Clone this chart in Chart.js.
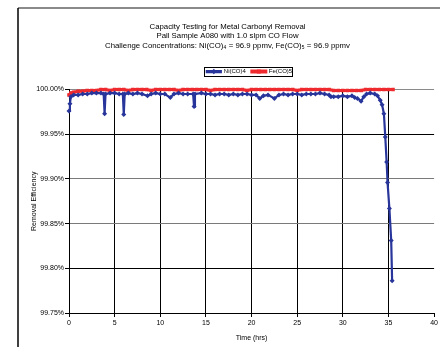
<!DOCTYPE html>
<html>
<head>
<meta charset="utf-8">
<script src="https://cdn.jsdelivr.net/npm/chart.js@4"></script>
<style>
  html, body { margin: 0; padding: 0; background: #fff; }
  #wrap { width: 440px; height: 347px; }
</style>
</head>
<body>
<div id="wrap"><canvas id="myChart"></canvas></div>
<script>
const titleLines = [
    'Capacity Testing for Metal Carbonyl Removal',
    'Pall Sample A080 with 1.0 slpm CO Flow',
    'Challenge Concentrations: Ni(CO)\u2084 = 96.9 ppmv, Fe(CO)\u2085 = 96.9 ppmv'
]
const seriesNames = ['Ni(CO)4', 'Fe(CO)5']
const xTitle = 'Time (hrs)'
const yTitle = 'Removal Efficiency'
const xTickValues = [0, 5, 10, 15, 20, 25, 30, 35, 40]
const yTickValues = [99.75, 99.80, 99.85, 99.90, 99.95, 100.00]

// Ni(CO)4 breakthrough (hours, % removal)
const niHours = [
    0, 0.1, 0.2, 0.5, 1.0, 1.5, 2.0, 2.5, 3.0, 3.5,
    3.8, 3.9, 4.0, 4.5, 5.0, 5.5, 5.9, 6.0, 6.1, 6.5,
    7.0, 7.5, 8.0, 8.6, 9.0, 9.5, 10.0, 10.5, 11.1, 11.5,
    12.0, 12.5, 13.0, 13.6, 13.7, 13.8, 14.5, 15.0, 15.5, 16.0,
    16.5, 17.0, 17.5, 18.0, 18.5, 19.0, 19.5, 20.0, 20.5, 20.9,
    21.3, 21.8, 22.5, 23.0, 23.5, 24.0, 24.5, 25.0, 25.5, 26.0,
    26.5, 27.0, 27.5, 28.0, 28.5, 28.7, 29.0, 29.5, 30.0, 30.5,
    31.0, 31.3, 31.6, 32.0, 32.3, 32.6, 33.0, 33.5, 33.8, 34.1,
    34.3, 34.5, 34.65, 34.8, 34.9, 35.1, 35.3, 35.4
]
const niEfficiency = [
    99.976, 99.984, 99.992, 99.994, 99.994, 99.995, 99.995, 99.996, 99.996, 99.996,
    99.995, 99.973, 99.995, 99.996, 99.996, 99.995, 99.995, 99.972, 99.995, 99.996,
    99.995, 99.996, 99.995, 99.993, 99.995, 99.996, 99.995, 99.995, 99.991, 99.995,
    99.996, 99.995, 99.995, 99.995, 99.981, 99.995, 99.996, 99.995, 99.995, 99.994,
    99.995, 99.995, 99.994, 99.995, 99.994, 99.995, 99.995, 99.994, 99.994, 99.990,
    99.993, 99.994, 99.990, 99.994, 99.995, 99.994, 99.995, 99.995, 99.994, 99.995,
    99.995, 99.995, 99.996, 99.995, 99.994, 99.992, 99.992, 99.992, 99.993, 99.992,
    99.993, 99.991, 99.990, 99.987, 99.992, 99.995, 99.996, 99.995, 99.993, 99.988,
    99.983, 99.973, 99.947, 99.919, 99.896, 99.867, 99.831, 99.786
]

// Fe(CO)5 (hours, % removal)
const feHours = [
    0, 0.2, 0.5, 1.0, 1.5, 2.0, 2.5, 3.0, 3.5, 4.0,
    4.5, 5.0, 5.5, 6.0, 6.5, 7.0, 7.5, 8.0, 8.5, 9.0,
    9.5, 10.0, 10.5, 11.0, 11.5, 12.0, 12.5, 13.0, 13.5, 14.0,
    14.5, 15.0, 15.5, 16.0, 16.5, 17.0, 17.5, 18.0, 18.5, 19.0,
    19.5, 20.0, 20.5, 21.0, 21.5, 22.0, 22.5, 23.0, 23.5, 24.0,
    24.5, 25.0, 25.5, 26.0, 26.5, 27.0, 27.5, 28.0, 28.5, 29.0,
    29.5, 30.0, 30.5, 31.0, 31.5, 32.0, 32.5, 33.0, 33.5, 34.0,
    34.5, 35.0, 35.5
]
const feEfficiency = [
    99.994, 99.996, 99.997, 99.998, 99.998, 99.999, 99.999, 99.999, 100.000, 100.000,
    99.999, 100.000, 100.000, 100.000, 99.999, 100.000, 100.000, 100.000, 100.000, 99.999,
    100.000, 100.000, 100.000, 100.000, 100.000, 99.999, 100.000, 100.000, 100.000, 100.000,
    100.000, 100.000, 99.999, 100.000, 100.000, 100.000, 100.000, 100.000, 100.000, 100.000,
    99.999, 100.000, 100.000, 100.000, 100.000, 100.000, 100.000, 100.000, 100.000, 100.000,
    100.000, 99.999, 100.000, 100.000, 100.000, 100.000, 100.000, 100.000, 100.000, 99.999,
    99.999, 99.999, 99.999, 99.999, 99.999, 99.999, 100.000, 100.000, 100.000, 100.000,
    100.000, 100.000, 100.000
]

const BLUE = '#28359a'
const RED = '#ee2a2e'
const FONT = 'Arial, "Liberation Sans", sans-serif'

Chart.defaults.font.family = FONT
Chart.defaults.font.size = 7
Chart.defaults.color = '#000'

// outer frame + legend decorations, the way Excel drew them
const excelLook = {
    id: 'excelLook',
    beforeDraw(chart) {
        const ctx = chart.ctx
        ctx.save()
        ctx.fillStyle = '#fff'
        ctx.fillRect(0, 0, chart.width, chart.height)
        ctx.lineWidth = 2
        ctx.strokeStyle = '#8a8a8a'
        ctx.beginPath(); ctx.moveTo(18, 8); ctx.lineTo(chart.width, 8); ctx.stroke()
        ctx.lineWidth = 1.5
        ctx.strokeStyle = '#000'
        ctx.beginPath(); ctx.moveTo(18, 8); ctx.lineTo(18, chart.height); ctx.stroke()
        ctx.restore()
    },
    beforeLayout(chart) {
        // leave a gap under the legend, like the Excel plot
        const lg = chart.legend
        if (lg && !lg._gapPatched) {
            const fit = lg.fit.bind(lg)
            lg.fit = function () { fit(); this.height += 5 }
            lg._gapPatched = true
        }
    },
    afterLayout(chart) {
        chart.legend.left += 22
        chart.legend.right += 22
    },
    afterDraw(chart) {
        const lg = chart.legend
        const boxes = lg.legendHitBoxes
        if (!boxes || !boxes.length) return
        const ctx = chart.ctx
        ctx.save()
        const styles = ['rectRot', 'rect']
        const cols = [BLUE, RED]
        let l = Infinity, r = -Infinity, t = Infinity, b = -Infinity
        boxes.forEach((h, i) => {
            l = Math.min(l, h.left); r = Math.max(r, h.left + h.width)
            t = Math.min(t, h.top); b = Math.max(b, h.top + h.height)
            const cx = h.left + lg.options.labels.boxWidth / 2
            const cy = h.top + h.height / 2
            ctx.fillStyle = cols[i]
            ctx.beginPath()
            if (styles[i] === 'rect') {
                ctx.rect(cx - 2, cy - 2, 4, 4)
            } else {
                ctx.moveTo(cx, cy - 2.8); ctx.lineTo(cx + 2.8, cy)
                ctx.lineTo(cx, cy + 2.8); ctx.lineTo(cx - 2.8, cy); ctx.closePath()
            }
            ctx.fill()
        })
        ctx.strokeStyle = '#000'
        ctx.lineWidth = 1
        ctx.strokeRect(Math.round(l - 3) + 0.5, Math.round(t - 1.5) + 0.5, Math.round(r - l + 3), Math.round(b - t + 3))
        ctx.restore()
    }
}

const yGridShade = ['#000', '#000', '#7a7a7a', '#7a7a7a', '#000', '#8a8a8a']

new Chart(document.getElementById('myChart'), {
    type: 'line',
    data: {
        datasets: [{
                label: seriesNames[0],
                data: niHours.map((h, i) => ({ x: h, y: niEfficiency[i] })),
                borderColor: BLUE,
                backgroundColor: BLUE,
                borderWidth: 2.2,
                pointStyle: 'rectRot',
                pointRadius: 2.5,
                pointBorderWidth: 0,
                tension: 0,
                clip: 6
            },
            {
                label: seriesNames[1],
                data: feHours.map((h, i) => ({ x: h, y: feEfficiency[i] })),
                borderColor: RED,
                backgroundColor: RED,
                borderWidth: 3,
                pointStyle: 'rect',
                pointRadius: 2.5,
                pointBorderWidth: 0,
                tension: 0,
                clip: 6
            }
        ]
    },
    options: {
        responsive: true,
        maintainAspectRatio: false,
        animation: false,
        layout: {
            padding: { left: 20, right: 5, top: 8, bottom: 0 }
        },
        scales: {
            x: {
                type: 'linear',
                min: 0,
                max: 40,
                afterBuildTicks: s => { s.ticks = xTickValues.map(v => ({ value: v })) },
                afterFit: s => { s.height = 34 },
                ticks: { padding: 2, maxRotation: 0, font: { size: 7 } },
                grid: {
                    color: c => (c.tick && (c.tick.value === 40 || c.tick.value === 0)) ? 'rgba(0,0,0,0)' : '#000',
                    tickColor: '#000',
                    tickLength: 4,
                    lineWidth: 1
                },
                border: { color: '#000', width: 1 },
                title: { display: true, text: xTitle, padding: { top: 0, bottom: 5 }, font: { size: 7 } }
            },
            y: {
                min: 99.75,
                max: 100,
                afterBuildTicks: s => { s.ticks = yTickValues.map(v => ({ value: v })) },
                afterFit: s => { s.width = 49 },
                ticks: {
                    padding: 1,
                    font: { size: 7 },
                    callback: v => v.toFixed(2) + '%'
                },
                grid: {
                    color: c => yGridShade[c.index] || '#000',
                    tickColor: '#000',
                    tickLength: 4,
                    lineWidth: 1
                },
                border: { color: '#000', width: 1 },
                title: { display: true, text: yTitle, padding: { top: 10, bottom: 0 }, font: { size: 7 } }
            }
        },
        plugins: {
            title: {
                display: true,
                text: titleLines,
                font: { size: 7.8, weight: 'normal', lineHeight: 1.22 },
                color: '#000',
                padding: { top: 14, bottom: 12 }
            },
            legend: {
                display: true,
                labels: {
                    boxWidth: 14,
                    boxHeight: 1,
                    padding: 6,
                    font: { size: 6 },
                    color: '#000'
                }
            },
            tooltip: { enabled: false }
        }
    },
    plugins: [excelLook]
})
</script>
</body>
</html>
